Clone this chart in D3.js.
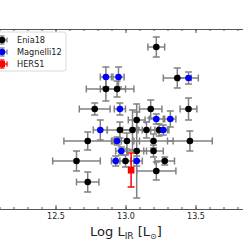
<!DOCTYPE html>
<html>
<head>
<meta charset="utf-8">
<script src="https://cdn.jsdelivr.net/npm/d3@7"></script>
<style>
body{margin:0;background:#fff;}
svg{display:block;font-family:"DejaVu Sans",sans-serif;}
</style>
</head>
<body>
<div id="chart"></div>
<script>
// log L_IR of each source, y value (arbitrary units, no y axis in view), and errors
var eniaX    = [13.22,13.37,12.86,12.94,12.78,13.18,13.45,13.08,12.96,13.05,13.15,13.24,12.73,13.01,13.20,13.46,13.08,13.20,12.65,13.00,13.28,13.22,12.73];
var eniaY    = [1.62,1.31,1.20,1.20,1.00,1.00,1.00,0.89,0.79,0.79,0.79,0.79,0.68,0.68,0.68,0.68,0.58,0.58,0.48,0.48,0.48,0.38,0.27];
var eniaXErr = [0.06,0.10,0.14,0.12,0.11,0.08,0.06,0.06,0.09,0.07,0.06,0.06,0.17,0.09,0.14,0.16,0.07,0.07,0.17,0.06,0.07,0.14,0.08];
var eniaYErr = [0.10,0.10,0.12,0.08,0.06,0.09,0.11,0.08,0.08,0.20,0.08,0.06,0.09,0.08,0.07,0.10,0.47,0.06,0.10,0.06,0.04,0.09,0.10];

var magX    = [12.86,12.95,13.45,12.96,13.22,13.32,12.82,13.27,12.94,12.97,12.93,13.08];
var magY    = [1.32,1.32,1.31,1.00,0.90,0.90,0.79,0.79,0.68,0.58,0.48,0.48];
var magXErr = [0.04,0.04,0.07,0.04,0.05,0.04,0.05,0.04,0.03,0.04,0.03,0.04];
var magYErr = [0.10,0.10,0.06,0.06,0.05,0.08,0.10,0.05,0.04,0.04,0.05,0.05];

var hersX    = [13.04];
var hersY    = [0.39];
var hersXErr = [0.015];
var hersYErr = [0.17];

var majorTicks = [12.5,13.0,13.5];
var minorTicks = d3.range(121,139).map(function(d){ return d/10; });

var legendNames = ["Enia18","Magnelli12","HERS1"];
var legendColors = ["#000000","#0000ff","#ff0000"];

var W = 243, H = 240;
var yTop = 29, yBot = 209;

var svg = d3.select('#chart').append('svg').attr('width',W).attr('height',H);

var x = d3.scaleLinear().domain([12.5,13.5]).range([55.5,195.5]);
var y = d3.scaleLinear().domain([0,1.8]).range([yBot,yTop]);

var axisColor = "#555";

// axes: ticks pointing inwards, top and bottom spine
function styleAxis(g){
    g.select('.domain').attr('stroke',axisColor).attr('stroke-width',1.2);
    g.selectAll('.tick line').attr('stroke',axisColor).attr('stroke-width',1);
    g.selectAll('.tick text').attr('fill','#222').attr('font-size',8);
}

var xFull = x.copy().domain([x.invert(-2),x.invert(W+2)]).range([-2,W+2]);

svg.append('g').attr('transform','translate(0,'+yBot+')')
    .call(d3.axisBottom(xFull).tickValues(minorTicks).tickSize(-2).tickSizeOuter(0).tickFormat(''))
    .call(styleAxis);
svg.append('g').attr('transform','translate(0,'+yBot+')')
    .call(d3.axisBottom(xFull).tickValues(majorTicks).tickSize(-4).tickSizeOuter(0).tickPadding(4.5).tickFormat(d3.format('.1f')))
    .call(styleAxis)
    .call(function(g){ g.select('.domain').remove(); g.selectAll('text').attr('font-family','DejaVu Sans'); });

svg.append('g').attr('transform','translate(0,'+yTop+')')
    .call(d3.axisTop(xFull).tickValues(minorTicks).tickSize(-2).tickSizeOuter(0).tickFormat(''))
    .call(styleAxis);
svg.append('g').attr('transform','translate(0,'+yTop+')')
    .call(d3.axisTop(xFull).tickValues(majorTicks).tickSize(-4).tickSizeOuter(0).tickFormat(''))
    .call(styleAxis)
    .call(function(g){ g.select('.domain').remove(); });

// axis title
var title = svg.append('text').attr('x',126).attr('y',236).attr('text-anchor','middle')
    .attr('font-size',13).attr('fill','#222');
title.append('tspan').text('Log L');
title.append('tspan').attr('dy',3).attr('font-size',9).text('IR');
title.append('tspan').attr('dy',-3).text(' [L');
title.append('tspan').attr('dy',3).attr('font-size',8).text('\u2299');
title.append('tspan').attr('dy',-3).text(']');

var errColor = "#808080", cap = 3.5;

function drawErrors(xs,ys,xe,ye,color){
    var g = svg.append('g').attr('stroke',color).attr('stroke-width',1.5).attr('fill','none');
    xs.forEach(function(d,i){
        var cx = x(d), cy = y(ys[i]);
        var x0 = x(d-xe[i]), x1 = x(d+xe[i]);
        var y0 = y(ys[i]-ye[i]), y1 = y(ys[i]+ye[i]);
        g.append('line').attr('x1',x0).attr('x2',x1).attr('y1',cy).attr('y2',cy);
        g.append('line').attr('x1',cx).attr('x2',cx).attr('y1',y0).attr('y2',y1);
        g.append('line').attr('x1',x0).attr('x2',x0).attr('y1',cy-cap).attr('y2',cy+cap);
        g.append('line').attr('x1',x1).attr('x2',x1).attr('y1',cy-cap).attr('y2',cy+cap);
        g.append('line').attr('x1',cx-cap).attr('x2',cx+cap).attr('y1',y0).attr('y2',y0);
        g.append('line').attr('x1',cx-cap).attr('x2',cx+cap).attr('y1',y1).attr('y2',y1);
    });
}

drawErrors(eniaX,eniaY,eniaXErr,eniaYErr,errColor);
drawErrors(magX,magY,magXErr,magYErr,errColor);

svg.append('g').selectAll('circle').data(eniaX).enter().append('circle')
    .attr('cx',function(d){ return x(d); })
    .attr('cy',function(d,i){ return y(eniaY[i]); })
    .attr('r',3.3).attr('fill','#000');
svg.append('g').selectAll('circle').data(magX).enter().append('circle')
    .attr('cx',function(d){ return x(d); })
    .attr('cy',function(d,i){ return y(magY[i]); })
    .attr('r',3.3).attr('fill','#0000ff');

drawErrors(hersX,hersY,hersXErr,hersYErr,'#ff0000');
svg.append('g').selectAll('rect').data(hersX).enter().append('rect')
    .attr('x',function(d){ return x(d)-3.3; })
    .attr('y',function(d,i){ return y(hersY[i])-3.3; })
    .attr('width',6.6).attr('height',6.6).attr('fill','#ff0000');

// legend (cut at the left edge like the original crop)
var leg = svg.append('g');
leg.append('rect').attr('x',-6).attr('y',32).attr('width',72).attr('height',39).attr('rx',2.5)
    .attr('fill','#fff').attr('fill-opacity',0.85).attr('stroke','#d0d0d0').attr('stroke-width',0.8);
legendNames.forEach(function(name,i){
    var ly = 40 + i*12, lx = 2;
    var ec = i==2 ? '#ff0000' : errColor;
    var g = leg.append('g').attr('stroke',ec).attr('stroke-width',1.3);
    g.append('line').attr('x1',lx-5).attr('x2',lx+5).attr('y1',ly).attr('y2',ly);
    g.append('line').attr('x1',lx).attr('x2',lx).attr('y1',ly-4).attr('y2',ly+4);
    g.append('line').attr('x1',lx+5).attr('x2',lx+5).attr('y1',ly-2.5).attr('y2',ly+2.5);
    g.append('line').attr('x1',lx-2.5).attr('x2',lx+2.5).attr('y1',ly-4).attr('y2',ly-4);
    g.append('line').attr('x1',lx-2.5).attr('x2',lx+2.5).attr('y1',ly+4).attr('y2',ly+4);
    if(i==2){
        leg.append('rect').attr('x',lx-3).attr('y',ly-3).attr('width',6).attr('height',6).attr('fill',legendColors[i]);
    }else{
        leg.append('circle').attr('cx',lx).attr('cy',ly).attr('r',3.3).attr('fill',legendColors[i]);
    }
    leg.append('text').attr('x',17).attr('y',ly+3).attr('font-size',8.2).attr('fill','#222').text(name);
});
</script>
</body>
</html>
